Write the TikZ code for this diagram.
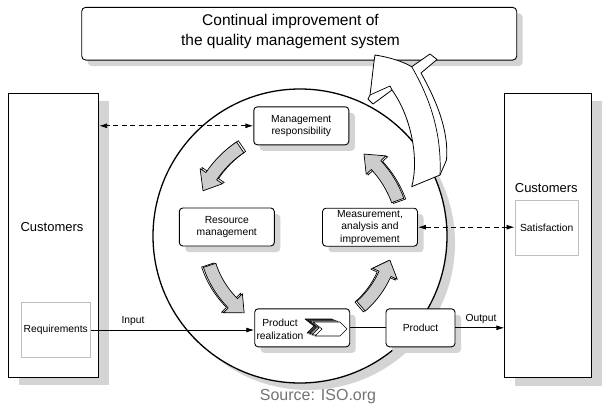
\documentclass[tikz,border=0pt]{standalone}
\usepackage{fontspec}
\setmainfont{Liberation Sans}
\usetikzlibrary{arrows.meta,shadows}
\newcommand\ringarrow[6]{%
  \pgfmathsetmacro\rA{#3+6.5}\pgfmathsetmacro\rB{#3-6.5}%
  \pgfmathsetmacro\rC{#3+13.5}\pgfmathsetmacro\rD{#3-13.5}%
  \pgfmathsetmacro\aE{#5-9}%
  \filldraw[fill=#6, line width=0.7pt, line join=round]
    ({#1+\rA*cos(#4)},{#2+\rA*sin(#4)}) arc[start angle=#4, end angle=\aE, radius=\rA]
    -- ({#1+\rC*cos(\aE)},{#2+\rC*sin(\aE)})
    -- ({#1+#3*cos(#5)},{#2+#3*sin(#5)})
    -- ({#1+\rD*cos(\aE)},{#2+\rD*sin(\aE)})
    -- ({#1+\rB*cos(\aE)},{#2+\rB*sin(\aE)})
    arc[start angle=\aE, end angle=#4, radius=\rB] -- cycle;}
\newcommand\chevlayer[3]{%
  \filldraw[fill=#3, line width=0.6pt, line join=round, shift={(#1,#2)}]
    (313,-322) -- (340,-322) -- (347,-329) -- (340,-336) -- (315,-336) -- (322,-329) -- cycle;}
\begin{document}
\begin{tikzpicture}[x=1pt,y=1pt,
  shd/.style={drop shadow={shadow xshift=#1, shadow yshift=-#1, fill=black!17, opacity=1}},
  smallbox/.style={draw, line width=0.9pt, rounded corners=3.5pt, fill=white,
    minimum width=95pt, minimum height=38pt, inner sep=0pt, align=center,
    font=\fontsize{10.3}{12.4}\selectfont, shd=6pt},
  bigbox/.style={draw, line width=1pt, fill=white, inner sep=0pt,
    drop shadow={shadow xshift=10pt, shadow yshift=-8pt, fill=black!17, opacity=1}},
  innerbox/.style={draw=black!25, line width=0.9pt, fill=white, inner sep=0pt,
    font=\fontsize{10.3}{12.4}\selectfont},
  smalltxt/.style={font=\fontsize{10.3}{12.4}\selectfont, inner sep=0pt},
  cust/.style={font=\fontsize{13}{15}\selectfont, inner sep=0pt},
  dashline/.style={line width=0.9pt, dash pattern=on 5pt off 3.5pt,
    {Latex[length=8pt,width=5pt]}-{Latex[length=8pt,width=5pt]}},
  flow/.style={line width=0.9pt},
  flowarrow/.style={line width=0.9pt, -{Latex[length=8pt,width=5pt]}},
  ]
\useasboundingbox (0,0) rectangle (610,-410);

% main circle
\node (ring) [circle, draw, line width=1.3pt, fill=white, minimum size=294pt, inner sep=0pt,
  drop shadow={shadow xshift=8pt, shadow yshift=-7pt, fill=black!17, opacity=1}] at (300,-236) {};

% top box
\node (topbox) [draw, line width=0.9pt, rounded corners=4pt, fill=white,
  minimum width=435pt, minimum height=52.7pt, inner sep=0pt, shd=6pt] at (299.2,-33.7) {};
\node (toptxt) [align=center, font=\fontsize{15.5}{20}\selectfont, inner sep=0pt]
  at (290.5,-31.7) {Continual improvement of\\the quality management system};

% customers
\node (lcust) [bigbox, minimum width=89.7pt, minimum height=284pt] at (53.8,-235.3) {};
\node (rcust) [bigbox, minimum width=86.7pt, minimum height=284.4pt] at (548.3,-235.5) {};
\node (lcusttxt) [cust] at (52,-227) {Customers};
\node (rcusttxt) [cust] at (546.3,-188.3) {Customers};
\node (req) [innerbox, minimum width=69.7pt, minimum height=55.4pt] at (55.8,-330) {Requirements};
\node (sat) [innerbox, minimum width=63.3pt, minimum height=55pt] at (546.7,-228.2) {Satisfaction};

% process boxes
\node (mgmt) [smallbox] at (301.3,-125.8) {Management\\responsibility};
\node (res) [smallbox] at (226.8,-227) {Resource\\management};
\node (meas) [smallbox] at (370,-227.2) {Measurement,\\analysis and\\improvement};
\node (prreal) [smallbox] at (302.2,-327.8) {};
\node (prtxt) [smalltxt, align=center] at (280,-329.2) {Product\\realization};
\node (prod) [smallbox, minimum width=69pt] at (420.5,-327.8) {Product};

% chevron icon
\chevlayer{-8}{3}{black!75}
\chevlayer{-5.5}{2}{black!40}
\chevlayer{-3}{1}{white}
\chevlayer{0}{0}{white}

% connectors
\draw[dashline] (mgmt.west) -- (mgmt.west -| lcust.east);
\draw[dashline] (meas.east) -- (meas.east -| sat.west);
\draw[flowarrow] (req.east) -- (req.east -| prreal.west);
\draw[flow] (prreal.east) -- (prod.west);
\draw[flowarrow] (prod.east) -- (prod.east -| rcust.west);
\node (inlbl) [smalltxt] at (133,-320.7) {Input};
\node (outlbl) [smalltxt] at (481,-319) {Output};

% circular gray arrows
\ringarrow{301.8}{-234.8}{107}{124}{155}{white}
\ringarrow{300}{-236}{107}{124}{155}{black!20}
\ringarrow{298.2}{-235.6}{95}{198}{234}{white}
\ringarrow{300}{-236}{95}{198}{234}{black!20}
\ringarrow{298.2}{-236.8}{93}{311}{345}{white}
\ringarrow{300}{-236}{93}{311}{345}{black!20}
\ringarrow{301.8}{-236.8}{104}{20}{52}{white}
\ringarrow{300}{-236}{104}{20}{52}{black!20}

% big improvement arrow
\filldraw[fill=white, line width=0.8pt, line join=round]
  (375,-55) .. controls (388,-57) and (402,-61) .. (411.7,-66.7)
  -- (430,-54) -- (437,-59.5) -- (421,-73)
  .. controls (436,-100) and (449,-130) .. (446.5,-160)
  -- (440,-175) -- (411.7,-186.7)
  .. controls (419,-160) and (412,-118) .. (392,-90)
  -- (373,-104) -- (368,-99) -- (370,-95)
  .. controls (372,-80) and (373,-68) .. (375,-55) -- cycle;
\draw[line width=0.7pt] (411.7,-66.7) .. controls (428,-95) and (442,-130) .. (440,-175);
\draw[line width=0.7pt] (370,-95) -- (390,-86) -- (392,-90);

% source
\node (src) [font=\fontsize{16}{18}\selectfont, text=black!55, inner sep=0pt] at (318,-397) {Source: ISO.org};
\end{tikzpicture}
\end{document}
